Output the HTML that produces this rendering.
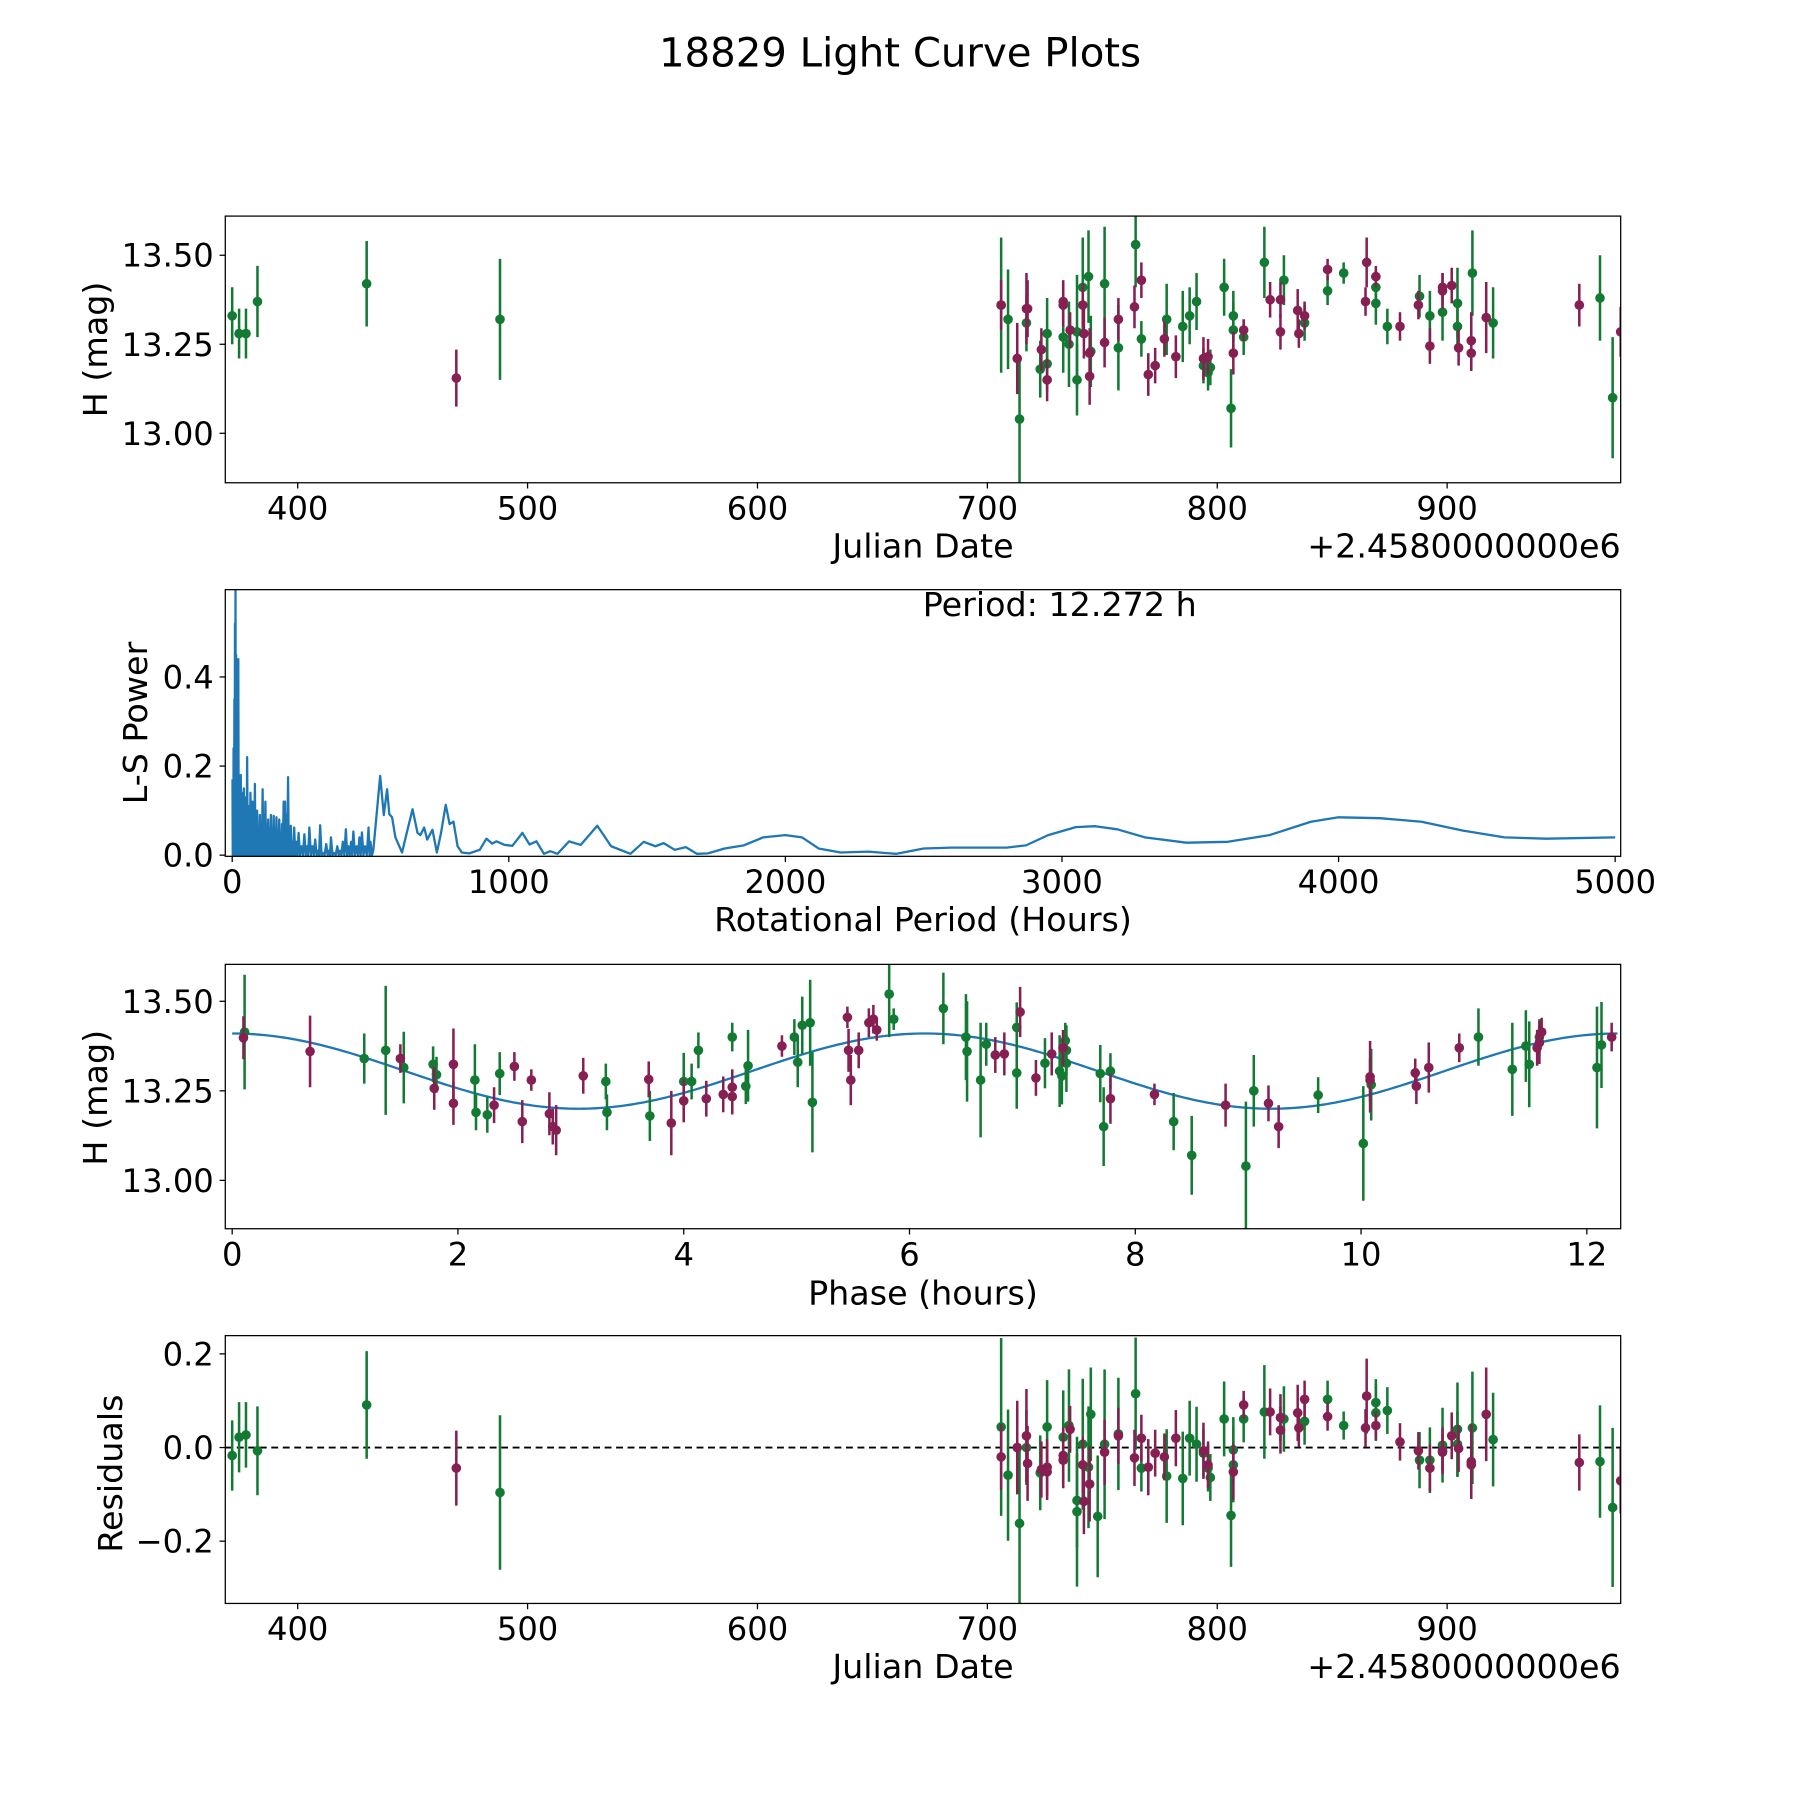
<!DOCTYPE html>
<html><head><meta charset="utf-8"><style>
html,body{margin:0;padding:0;background:#fff;}
svg{display:block;font-family:"DejaVu Sans","Liberation Sans",sans-serif;}
</style></head><body>
<svg id="fig" width="1800" height="1800" viewBox="0 0 1566 1566" xmlns="http://www.w3.org/2000/svg">
<rect width="1566" height="1566" fill="#fff"/>
<text x="783" y="58" font-size="35" text-anchor="middle">18829 Light Curve Plots</text>
<g id="root"></g>
</svg>
<script>
// ---- Panel 1: raw light curve [jd, mag, err]
const lcGreen=[[371.5,13.33,0.08],[374.5,13.28,0.07],[377.5,13.28,0.07],[382.5,13.37,0.1],[430,13.42,0.12],[488,13.32,0.17],
[706,13.36,0.19],[709,13.32,0.14],[714,13.04,0.18],[717,13.31,0.08],[723,13.18,0.08],[726,13.195,0.08],[726,13.28,0.1],[733,13.27,0.1],[735.5,13.25,0.12],[739,13.15,0.1],[739,13.285,0.16],[741.5,13.41,0.14],[744,13.44,0.13],[745,13.23,0.1],[751,13.42,0.16],[757,13.24,0.12],[764.5,13.53,0.12],[767,13.265,0.05],[778,13.32,0.1],[785,13.30,0.1],[788,13.33,0.08],[791,13.37,0.08],[794,13.19,0.05],[796,13.17,0.05],[797,13.185,0.05],[803,13.41,0.08],[806,13.07,0.11],[807,13.29,0.08],[807,13.33,0.07],[811.5,13.27,0.05],[820.5,13.48,0.1],[829,13.43,0.07],[838,13.31,0.05],[848,13.40,0.04],[855,13.45,0.03],[869,13.41,0.05],[869,13.365,0.06],[874,13.30,0.05],[888,13.385,0.06],[892.5,13.33,0.07],[898,13.34,0.08],[904.5,13.365,0.1],[904.5,13.30,0.07],[911,13.45,0.12],[920,13.31,0.1],[966.5,13.38,0.12],[972,13.10,0.17]];
const lcPurple=[[469,13.155,0.08],[706,13.36,0.07],[713,13.21,0.1],[717,13.35,0.1],[717.5,13.35,0.08],[723.5,13.235,0.06],[726,13.15,0.06],[733,13.37,0.06],[733,13.36,0.06],[736,13.29,0.05],[741.5,13.36,0.06],[742,13.28,0.07],[744.5,13.16,0.08],[744.5,13.225,0.07],[751,13.255,0.07],[757,13.32,0.06],[764,13.355,0.06],[767,13.43,0.05],[770,13.165,0.06],[773,13.19,0.05],[777,13.265,0.05],[782,13.215,0.06],[794,13.21,0.06],[796,13.215,0.05],[807,13.225,0.06],[811.5,13.29,0.03],[823,13.375,0.05],[827.5,13.375,0.05],[827.5,13.285,0.05],[835,13.345,0.06],[835.5,13.28,0.04],[838,13.33,0.04],[848,13.46,0.03],[864.5,13.37,0.04],[865,13.48,0.07],[869,13.44,0.03],[879.5,13.30,0.04],[887.5,13.36,0.04],[892.5,13.245,0.05],[898,13.40,0.05],[898,13.41,0.04],[902,13.415,0.05],[905,13.24,0.05],[910.5,13.26,0.08],[910.5,13.225,0.05],[917,13.325,0.1],[957.5,13.36,0.06],[975.5,13.285,0.07]];
// ---- Panel 2: Lomb-Scargle periodogram
const spikePeriod=[1,3,5,8,10,12,14,16,19,22,25,28,31,34,38,42,46,50,54,58,62,66,70,74,78,82,86,90,95,100,105,110,115,120,125,130,135,140,145,150,155,160,165,170,175,180,186,191,196,202,207,212,218,224,232,240,250,261,270,279,290,300,310,318,328,340,350,357,368,380,390,400,411,420,430,438,450,460,469,480,493,500,510];
const spikePower=[0.17,0.1,0.24,0.35,0.52,0.6,0.45,0.3,0.18,0.44,0.17,0.1,0.18,0.12,0.14,0.15,0.08,0.13,0.22,0.09,0.11,0.14,0.06,0.12,0.09,0.16,0.08,0.1,0.06,0.09,0.05,0.148,0.09,0.12,0.05,0.08,0.06,0.09,0.05,0.088,0.06,0.085,0.04,0.08,0.05,0.07,0.12,0.12,0.09,0.175,0.05,0.066,0.03,0.062,0.03,0.05,0.02,0.047,0.02,0.062,0.02,0.035,0.01,0.067,0.005,0.025,0.01,0.04,0.005,0.02,0.01,0.03,0.058,0.02,0.03,0.053,0.02,0.04,0.051,0.02,0.062,0.03,0.01];
const smoothPeriod=[535,548,560,568,578,590,614,635,652,670,680,694,705,724,740,755,772,786,800,815,830,857,895,919,940,955,985,1013,1049,1075,1100,1127,1150,1176,1218,1260,1320,1370,1440,1488,1530,1560,1600,1640,1680,1720,1780,1850,1920,2000,2060,2120,2200,2300,2400,2500,2600,2700,2800,2870,2950,3050,3120,3200,3300,3450,3600,3750,3900,4000,4150,4300,4450,4600,4750,5000];
const smoothPower=[0.178,0.09,0.148,0.092,0.085,0.04,0.006,0.06,0.103,0.05,0.045,0.062,0.035,0.057,0.006,0.05,0.113,0.07,0.075,0.02,0.006,0.004,0.012,0.037,0.026,0.031,0.023,0.021,0.05,0.024,0.031,0.003,0.009,0.003,0.031,0.023,0.066,0.02,0.003,0.03,0.02,0.027,0.012,0.018,0.003,0.004,0.015,0.022,0.04,0.045,0.04,0.015,0.006,0.008,0.003,0.015,0.017,0.017,0.017,0.022,0.045,0.063,0.065,0.058,0.04,0.028,0.03,0.045,0.075,0.085,0.083,0.075,0.055,0.04,0.037,0.04];
const bestPeriod=12.272;
// ---- Panel 3: phased [phase_h, mag, err]
const phGreen=[[0.11,13.414,0.16],[1.17,13.34,0.07],[1.36,13.363,0.18],[1.52,13.315,0.1],[1.78,13.324,0.05],[1.81,13.295,0.05],[2.15,13.28,0.1],[2.16,13.19,0.05],[2.26,13.183,0.05],[2.37,13.298,0.06],[3.31,13.276,0.05],[3.32,13.19,0.05],[3.70,13.18,0.07],[4.00,13.276,0.08],[4.07,13.276,0.05],[4.13,13.363,0.05],[4.43,13.40,0.04],[4.55,13.263,0.05],[4.57,13.32,0.1],[4.98,13.40,0.05],[5.01,13.33,0.07],[5.05,13.433,0.08],[5.12,13.44,0.12],[5.14,13.218,0.14],[5.82,13.52,0.12],[5.86,13.45,0.03],[6.30,13.48,0.1],[6.50,13.40,0.12],[6.51,13.36,0.14],[6.63,13.28,0.16],[6.68,13.38,0.06],[6.95,13.30,0.1],[6.95,13.427,0.07],[7.20,13.327,0.07],[7.33,13.305,0.1],[7.35,13.292,0.08],[7.38,13.39,0.05],[7.39,13.363,0.07],[7.39,13.327,0.08],[7.69,13.298,0.08],[7.72,13.15,0.11],[7.78,13.305,0.05],[8.34,13.164,0.08],[8.50,13.07,0.11],[8.98,13.04,0.18],[9.05,13.25,0.1],[9.62,13.238,0.05],[10.02,13.103,0.16],[10.09,13.267,0.1],[11.04,13.40,0.08],[11.34,13.31,0.13],[11.46,13.375,0.1],[11.49,13.324,0.12],[11.58,13.40,0.05],[12.09,13.315,0.17],[12.13,13.378,0.12]];
const phPurple=[[0.10,13.398,0.06],[0.69,13.36,0.1],[1.49,13.34,0.04],[1.79,13.257,0.06],[1.96,13.324,0.1],[1.96,13.215,0.06],[2.32,13.21,0.05],[2.50,13.318,0.04],[2.57,13.164,0.06],[2.65,13.28,0.03],[2.81,13.186,0.06],[2.84,13.15,0.05],[2.87,13.14,0.07],[3.11,13.292,0.05],[3.69,13.282,0.05],[3.89,13.16,0.09],[4.00,13.222,0.06],[4.20,13.228,0.05],[4.35,13.24,0.05],[4.43,13.26,0.05],[4.43,13.234,0.05],[4.87,13.375,0.03],[5.45,13.455,0.03],[5.46,13.363,0.06],[5.48,13.28,0.07],[5.55,13.363,0.05],[5.64,13.44,0.04],[5.68,13.45,0.04],[5.71,13.42,0.03],[6.76,13.35,0.05],[6.84,13.353,0.06],[6.98,13.47,0.07],[7.12,13.286,0.05],[7.26,13.353,0.06],[7.36,13.37,0.05],[7.78,13.228,0.07],[8.17,13.24,0.03],[8.80,13.21,0.06],[9.18,13.215,0.05],[9.27,13.15,0.06],[10.08,13.289,0.1],[10.08,13.28,0.06],[10.49,13.263,0.05],[10.48,13.30,0.04],[10.60,13.315,0.07],[10.87,13.37,0.04],[11.56,13.37,0.05],[11.58,13.385,0.06],[11.60,13.414,0.04],[12.22,13.40,0.04]];
const modelMean=13.305, modelAmp=0.105, modelHalfPeriod=6.136;
// ---- Panel 4: residuals [jd, resid, err]
const resGreen=[[371.5,-0.017,0.075],[374.5,0.022,0.075],[377.5,0.027,0.07],[382.5,-0.007,0.095],[430,0.091,0.115],[488,-0.096,0.165],[706,0.044,0.19],[709,-0.059,0.14],[714,-0.162,0.17],[717,0.0,0.08],[723,-0.054,0.08],[726,0.044,0.1],[733,0.022,0.1],[735.5,0.047,0.12],[739,-0.113,0.1],[739,-0.137,0.16],[741.5,0.007,0.14],[744,-0.042,0.13],[745,0.071,0.1],[748,-0.147,0.13],[751,0.007,0.16],[757,0.029,0.12],[764.5,0.115,0.12],[767,-0.044,0.05],[778,-0.061,0.1],[785,-0.066,0.1],[788,0.02,0.08],[791,0.007,0.08],[794,-0.012,0.05],[796,-0.044,0.05],[797,-0.064,0.05],[803,0.061,0.08],[806,-0.145,0.11],[807,-0.037,0.08],[807,-0.005,0.07],[811.5,0.061,0.05],[820.5,0.076,0.1],[829,0.061,0.07],[838,0.056,0.05],[848,0.103,0.04],[855,0.047,0.03],[869,0.096,0.05],[869,0.074,0.06],[874,0.079,0.05],[888,-0.027,0.06],[892.5,-0.027,0.07],[898,0.005,0.08],[904.5,0.039,0.1],[904.5,0.007,0.07],[911,0.042,0.12],[920,0.017,0.1],[966.5,-0.03,0.12],[972,-0.128,0.17]];
const resPurple=[[469,-0.044,0.08],[706,-0.02,0.07],[713,0.0,0.1],[717,0.025,0.1],[717.5,-0.034,0.08],[723.5,-0.047,0.06],[726,-0.052,0.06],[726,-0.042,0.06],[733,-0.017,0.06],[733,-0.027,0.06],[736,0.039,0.05],[741.5,-0.037,0.06],[742,-0.115,0.07],[744.5,-0.078,0.08],[751,-0.01,0.07],[757,0.025,0.06],[764,-0.022,0.06],[767,0.02,0.05],[770,-0.042,0.06],[773,-0.012,0.05],[777,-0.02,0.05],[782,0.02,0.06],[794,-0.007,0.06],[796,-0.037,0.05],[807,-0.052,0.06],[811.5,0.091,0.03],[823,0.076,0.05],[827.5,0.064,0.05],[827.5,0.037,0.05],[835,0.074,0.06],[835.5,0.042,0.04],[838,0.103,0.04],[848,0.066,0.03],[864.5,0.042,0.04],[865,0.11,0.08],[869,0.047,0.03],[879.5,0.012,0.04],[887.5,-0.007,0.04],[892.5,-0.044,0.05],[898,-0.007,0.05],[898,-0.01,0.04],[902,0.025,0.05],[905,-0.002,0.05],[910.5,-0.03,0.08],[910.5,-0.037,0.05],[917,0.071,0.1],[957.5,-0.032,0.06],[975.5,-0.071,0.07]];
// ---- tick labels
const jdTicks=[400,500,600,700,800,900];
const magTicks=[13.00,13.25,13.50];
const lsXTicks=[0,1000,2000,3000,4000,5000];
const lsYTicks=[0.0,0.2,0.4];
const phTicks=[0,2,4,6,8,10,12];
const resTicks=[-0.2,0.0,0.2];

const NS='http://www.w3.org/2000/svg';
const root=document.getElementById('root');
const GREEN='#137a33', PURPLE='#861f52', BLUE='#1f77b4';
const TICK_FS=28, LABEL_FS=29;
function mk(tag,attrs,parent){const e=document.createElementNS(NS,tag);for(const k in attrs)e.setAttribute(k,attrs[k]);(parent||root).appendChild(e);return e;}
function lin(d0,d1,p0,p1){return v=>p0+(v-d0)*(p1-p0)/(d1-d0);}
function axes(name){
  const g=mk('g',{});
  
  
  return g;
}
function frame(g,x0,y0,x1,y1){
  const r=mk('rect',{x:x0,y:y0,width:x1-x0,height:y1-y0,fill:'none',stroke:'#000','stroke-width':1.1},g);
  
  
}
function xticks(g,ticks,sx,y1,fmt){
  ticks.forEach(t=>{const x=sx(t);
    mk('line',{x1:x,x2:x,y1:y1,y2:y1+5,stroke:'#000','stroke-width':1.1},g);
    const tx=mk('text',{x:x,y:y1+32,'font-size':TICK_FS,'text-anchor':'middle'},g);tx.textContent=fmt(t);
    
    });
}
function yticks(g,ticks,sy,x0,fmt){
  ticks.forEach(t=>{const y=sy(t);
    mk('line',{x1:x0-5,x2:x0,y1:y,y2:y,stroke:'#000','stroke-width':1.1},g);
    const tx=mk('text',{x:x0-10,y:y+10,'font-size':TICK_FS,'text-anchor':'end'},g);tx.textContent=fmt(t);
    
    });
}
function label(g,txt,x,y,rot,name){
  const t=mk('text',{x:x,y:y,'font-size':LABEL_FS,'text-anchor':'middle'},g);
  if(rot)t.setAttribute('transform','rotate(-90 '+x+' '+y+')');
  t.textContent=txt;
  
  
}
function errpts(g,pts,sx,sy,col,name){
  pts.forEach(p=>{const x=sx(p[0]);
    const l=mk('line',{x1:x,x2:x,y1:sy(p[1]-p[2]),y2:sy(p[1]+p[2]),stroke:col,'stroke-width':2.2},g);
    
    });
  pts.forEach(p=>{
    const c=mk('circle',{cx:sx(p[0]),cy:sy(p[1]),r:4.2,fill:col},g);
    
    });
}
const mfmt=v=>v.toFixed(2);
// Panel 1
(function(){
  const x0=196,x1=1410,y0=188,y1=420;
  const g=axes('raw-light-curve-panel');
  const sx=lin(368.5,975.5,x0,x1), sy=lin(12.861,13.61,y1,y0);
  const cp=mk('clipPath',{id:'c1'},g);mk('rect',{x:x0,y:y0,width:x1-x0,height:y1-y0},cp);
  const d=mk('g',{'clip-path':'url(#c1)'},g);
  errpts(d,lcGreen,sx,sy,GREEN,'green-obs');errpts(d,lcPurple,sx,sy,PURPLE,'purple-obs');
  frame(g,x0,y0,x1,y1);xticks(g,jdTicks,sx,y1,String);yticks(g,magTicks,sy,x0,mfmt);
  label(g,'Julian Date',803,485,false,'x-axis-title');label(g,'H (mag)',93,304,true,'y-axis-title');
  const o=mk('text',{x:x1,y:485,'font-size':LABEL_FS,'text-anchor':'end'},g);o.textContent='+2.4580000000e6';
  
  
})();
// Panel 2
(function(){
  const x0=196,x1=1410,y0=513,y1=745;
  const g=axes('periodogram-panel');
  const sx=lin(-25,5020,x0,x1), sy=lin(-0.0026,0.596,y1,y0);
  const cp=mk('clipPath',{id:'c2'},g);mk('rect',{x:x0,y:y0,width:x1-x0,height:y1-y0},cp);
  let pts=[];
  for(let i=0;i<spikePeriod.length;i++){
    pts.push(sx(spikePeriod[i])+','+sy(spikePower[i]));
    if(i<spikePeriod.length-1){const m=(spikePeriod[i]+spikePeriod[i+1])/2;pts.push(sx(m)+','+sy(0));}
  }
  for(let i=0;i<smoothPeriod.length;i++)pts.push(sx(smoothPeriod[i])+','+sy(smoothPower[i]));
  const pl=mk('polyline',{points:pts.join(' '),fill:'none',stroke:BLUE,'stroke-width':2,'stroke-linejoin':'round','clip-path':'url(#c2)'},g);
  
  
  frame(g,x0,y0,x1,y1);xticks(g,lsXTicks,sx,y1,String);yticks(g,lsYTicks,sy,x0,v=>v.toFixed(1));
  label(g,'Rotational Period (Hours)',803,810,false,'x-axis-title');label(g,'L-S Power',128,629,true,'y-axis-title');
  const t=mk('text',{x:922,y:536,'font-size':LABEL_FS,'text-anchor':'middle'},g);t.textContent='Period: '+bestPeriod.toFixed(3)+' h';
  
  
})();
// Panel 3
(function(){
  const x0=196,x1=1410,y0=839,y1=1069;
  const g=axes('phased-curve-panel');
  const sx=lin(-0.061,12.30,x0,x1), sy=lin(12.865,13.603,y1,y0);
  const cp=mk('clipPath',{id:'c3'},g);mk('rect',{x:x0,y:y0,width:x1-x0,height:y1-y0},cp);
  const d=mk('g',{'clip-path':'url(#c3)'},g);
  let pts=[];for(let i=0;i<=300;i++){const p=bestPeriod*i/300;pts.push(sx(p)+','+sy(modelMean+modelAmp*Math.cos(2*Math.PI*p/modelHalfPeriod)));}
  const pl=mk('polyline',{points:pts.join(' '),fill:'none',stroke:BLUE,'stroke-width':2},d);
  
  
  errpts(d,phGreen,sx,sy,GREEN,'green-phased');errpts(d,phPurple,sx,sy,PURPLE,'purple-phased');
  frame(g,x0,y0,x1,y1);xticks(g,phTicks,sx,y1,String);yticks(g,magTicks,sy,x0,mfmt);
  label(g,'Phase (hours)',803,1135,false,'x-axis-title');label(g,'H (mag)',93,955,true,'y-axis-title');
})();
// Panel 4
(function(){
  const x0=196,x1=1410,y0=1162,y1=1395;
  const g=axes('residuals-panel');
  const sx=lin(368.5,975.5,x0,x1), sy=lin(-0.333,0.239,y1,y0);
  const cp=mk('clipPath',{id:'c4'},g);mk('rect',{x:x0,y:y0,width:x1-x0,height:y1-y0},cp);
  const d=mk('g',{'clip-path':'url(#c4)'},g);
  const z=mk('line',{x1:x0,x2:x1,y1:sy(0),y2:sy(0),stroke:'#000','stroke-width':1.6,'stroke-dasharray':'6,4'},d);
  
  
  errpts(d,resGreen,sx,sy,GREEN,'green-residual');errpts(d,resPurple,sx,sy,PURPLE,'purple-residual');
  frame(g,x0,y0,x1,y1);xticks(g,jdTicks,sx,y1,String);yticks(g,resTicks,sy,x0,v=>(v<0?'\u2212':'')+Math.abs(v).toFixed(1));
  label(g,'Julian Date',803,1460,false,'x-axis-title');label(g,'Residuals',106,1282,true,'y-axis-title');
  const o=mk('text',{x:x1,y:1460,'font-size':LABEL_FS,'text-anchor':'end'},g);o.textContent='+2.4580000000e6';
  
  
})();
</script>
</body></html>
